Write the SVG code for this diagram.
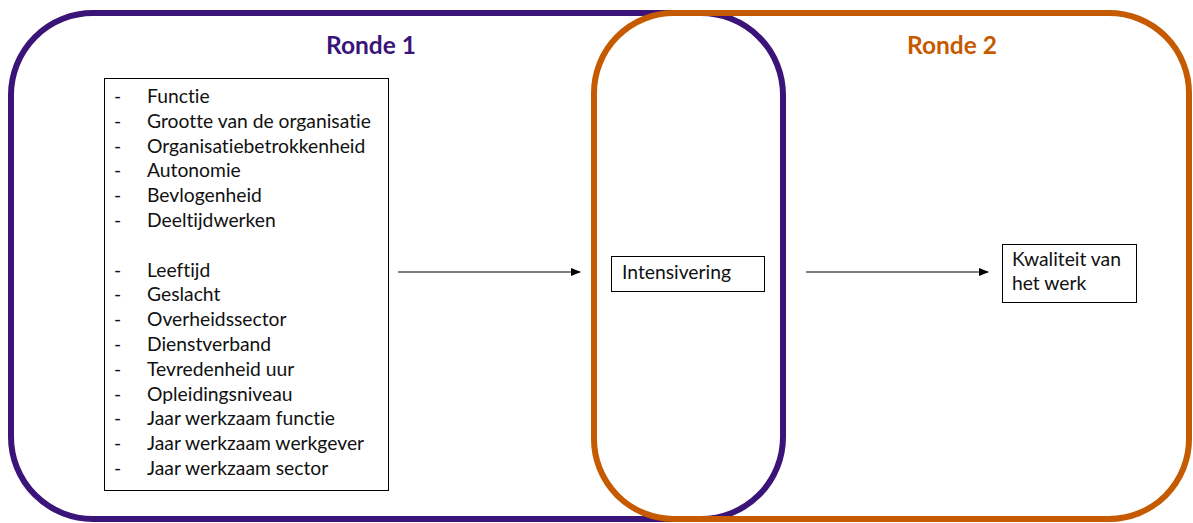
<svg xmlns="http://www.w3.org/2000/svg" width="1193" height="523" viewBox="0 0 1193 523">
<style>
.t{font-family:Lato,"Open Sans","Liberation Sans",sans-serif;font-size:19.3px;fill:#111;font-variant-ligatures:none}
.h{font-family:Lato,"Open Sans","Liberation Sans",sans-serif;font-size:24.5px;font-weight:bold}
.box{fill:#fff;stroke:#000;stroke-width:1}
.conn{stroke:#000;stroke-width:1.2;fill:none;marker-end:url(#ah)}
</style>
<defs>
<marker id="ah" markerWidth="10" markerHeight="8" refX="9" refY="4" orient="auto" markerUnits="userSpaceOnUse">
<path d="M0,0 L10,4 L0,8 Z" fill="#000"/>
</marker>
</defs>
<rect width="1193" height="523" fill="#fff"/>
<g id="ronde1">
<rect x="11" y="13" width="772" height="506" rx="82" ry="82" fill="none" stroke="#3a1478" stroke-width="6"/>
<text class="h" x="371" y="54" text-anchor="middle" fill="#3a1478">Ronde 1</text>
</g>
<g id="ronde2">
<rect x="594" y="13" width="595" height="506" rx="80" ry="80" fill="none" stroke="#c55a00" stroke-width="6"/>
<text class="h" x="952" y="54" text-anchor="middle" fill="#c55a00">Ronde 2</text>
</g>
<g id="factoren">
<rect class="box" x="104.5" y="78.5" width="284" height="412"/>
<g class="t">
<text x="114" y="103">-</text><text x="147" y="103">Functie</text>
<text x="114" y="127.8">-</text><text x="147" y="127.8">Grootte van de organisatie</text>
<text x="114" y="152.6">-</text><text x="147" y="152.6">Organisatiebetrokkenheid</text>
<text x="114" y="177.4">-</text><text x="147" y="177.4">Autonomie</text>
<text x="114" y="202.2">-</text><text x="147" y="202.2">Bevlogenheid</text>
<text x="114" y="227">-</text><text x="147" y="227">Deeltijdwerken</text>
<text x="114" y="276.6">-</text><text x="147" y="276.6">Leeftijd</text>
<text x="114" y="301.4">-</text><text x="147" y="301.4">Geslacht</text>
<text x="114" y="326.2">-</text><text x="147" y="326.2">Overheidssector</text>
<text x="114" y="351">-</text><text x="147" y="351">Dienstverband</text>
<text x="114" y="375.8">-</text><text x="147" y="375.8">Tevredenheid uur</text>
<text x="114" y="400.6">-</text><text x="147" y="400.6">Opleidingsniveau</text>
<text x="114" y="425.4">-</text><text x="147" y="425.4">Jaar werkzaam functie</text>
<text x="114" y="450.2">-</text><text x="147" y="450.2">Jaar werkzaam werkgever</text>
<text x="114" y="475">-</text><text x="147" y="475">Jaar werkzaam sector</text>
</g>
</g>
<g id="intensivering">
<rect class="box" x="611.5" y="256.5" width="153" height="35"/>
<text class="t" x="622" y="279">Intensivering</text>
</g>
<g id="kwaliteit">
<rect class="box" x="1002.5" y="244.5" width="134" height="58"/>
<text class="t" x="1012" y="266">Kwaliteit van</text>
<text class="t" x="1012" y="290">het werk</text>
</g>
<g id="connectors">
<line class="conn" x1="398" y1="272" x2="580" y2="272"/>
<line class="conn" x1="806" y1="272" x2="988" y2="272"/>
</g>
</svg>
